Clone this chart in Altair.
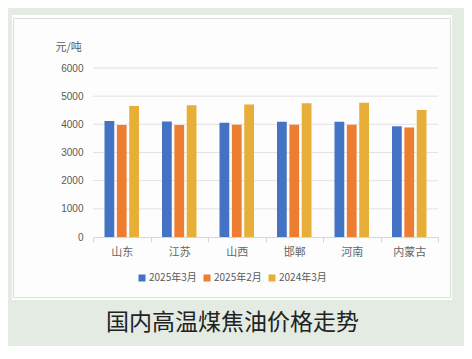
import altair as alt
import pandas as pd

regions = ["山东", "江苏", "山西", "邯郸", "河南", "内蒙古"]
series = ["2025年3月", "2025年2月", "2024年3月"]
mar_2025 = [4115, 4105, 4055, 4090, 4090, 3930]
feb_2025 = [3975, 3975, 3985, 3985, 3985, 3890]
mar_2024 = [4650, 4675, 4700, 4745, 4770, 4510]
y_ticks = [0, 1000, 2000, 3000, 4000, 5000, 6000]
colors = ["#4472C4", "#ED7D31", "#E7AF37"]
title_text = "国内高温煤焦油价格走势"

rows = []
for name, vals in zip(series, [mar_2025, feb_2025, mar_2024]):
    for r, v in zip(regions, vals):
        rows.append({"region": r, "series": name, "value": v})
df = pd.DataFrame(rows)
grid_df = pd.DataFrame({"value": y_ticks[1:]})
one = pd.DataFrame({"t": [title_text]})

y_axis = alt.Axis(values=y_ticks, format="d", labelOverlap=False,
                  labelFlush=False, grid=False, domain=False, ticks=False,
                  tickSize=0, labelPadding=10, labelFont="Liberation Sans",
                  labelFontSize=10, labelColor="#595959",
                  title="元/吨", titleAngle=0, titleX=-38, titleY=-21,
                  titleAlign="left", titleBaseline="middle",
                  titleFont="Noto Sans CJK SC", titleFontSize=11,
                  titleFontWeight="normal", titleColor="#595959", zindex=1)
y_scale = alt.Scale(domain=[0, 6000], nice=False)

panel = alt.Chart(one).mark_rect(fill="#FFFFFF", stroke=None).encode(
    x=alt.value(-81), x2=alt.value(359), y=alt.value(-53), y2=alt.value(232)
)
frame = alt.Chart(one).mark_rect(fill="#FDFDFD", stroke="#DCDCDC", strokeWidth=1).encode(
    x=alt.value(-79.5), x2=alt.value(357.5), y=alt.value(-49.5), y2=alt.value(229.5)
)

grid = alt.Chart(grid_df).mark_rule(color="#E4E2E2", strokeWidth=1).encode(
    y=alt.Y("value:Q", scale=y_scale, axis=y_axis)
)

bars = alt.Chart(df).mark_bar(strokeWidth=0).encode(
    x=alt.X("region:N", sort=regions,
            scale=alt.Scale(paddingInner=0, paddingOuter=0),
            axis=alt.Axis(title=None, labelAngle=0, domainColor="#D6D6D6",
                          tickColor="#D6D6D6", tickBand="extent", tickSize=5,
                          labelFont="Noto Sans CJK SC", labelFontSize=11,
                          labelColor="#666666", labelPadding=4, grid=False,
                          zindex=1)),
    xOffset=alt.XOffset("series:N", sort=series,
                        scale=alt.Scale(paddingInner=0.21, paddingOuter=0.93)),
    y=alt.Y("value:Q", scale=y_scale, axis=y_axis),
    color=alt.Color("series:N", sort=series,
                    scale=alt.Scale(domain=series, range=colors),
                    legend=alt.Legend(title=None, orient="none", legendX=44,
                                      legendY=205, direction="horizontal",
                                      symbolType="square", symbolSize=49,
                                      symbolStrokeWidth=0, labelFontSize=10,
                                      labelFont="Noto Sans CJK SC",
                                      labelColor="#595959", columnPadding=5,
                                      labelOffset=2, padding=0)),
)

title = alt.Chart(one).mark_text(font="Noto Sans CJK SC", fontSize=23,
                                 color="#222222", align="center",
                                 baseline="middle").encode(
    text="t:N", x=alt.value(139.5), y=alt.value(255)
)

chart = alt.layer(panel, frame, grid, bars, title).properties(
    width=345, height=169,
    background="#E3EBE2",
    autosize=alt.AutoSizeParams(type="none"),
    padding={"left": 85, "top": 60, "right": 26, "bottom": 109},
).configure_view(stroke=None)

chart.save("out.html", embed_options={"renderer": "svg", "actions": False})
